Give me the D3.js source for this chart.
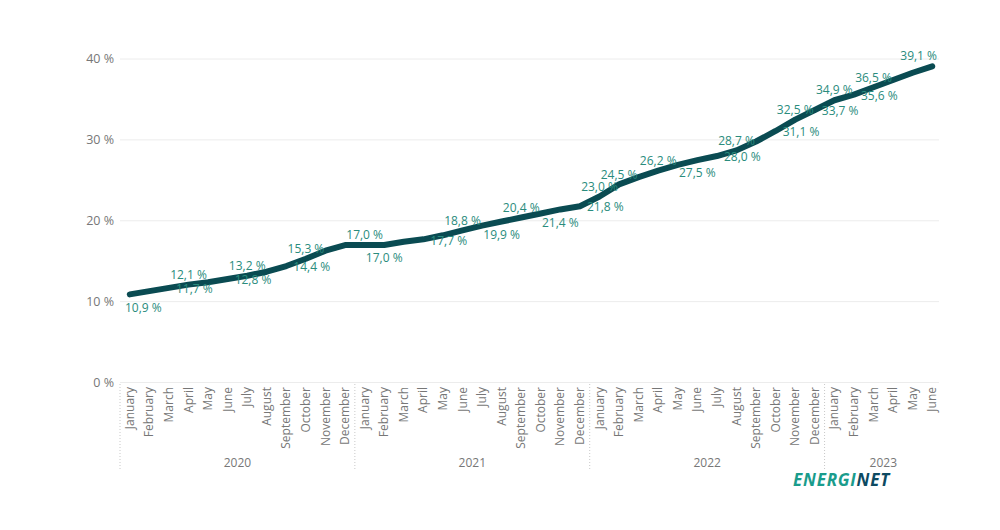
<!DOCTYPE html>
<html>
<head>
<meta charset="utf-8">
<script src="https://cdn.jsdelivr.net/npm/d3@7/dist/d3.min.js"></script>
<style>
  body { margin: 0; background: #fff; }
  svg { font-family: "Open Sans", "Noto Sans", sans-serif; }
</style>
</head>
<body>
<svg id="chart" width="1000" height="530"></svg>
<script>
// monthly share, Jan 2020 - Jun 2023
var months = ['January','February','March','April','May','June','July','August','September','October','November','December'];
var years = ['2020', '2021', '2022', '2023'];
var monthsPerYear = [12, 12, 12, 6];
var values = [
  10.9, 11.3, 11.7, 12.1, 12.4, 12.8, 13.2, 13.7, 14.4, 15.3, 16.3, 17.0,
  17.0, 17.0, 17.4, 17.7, 18.2, 18.8, 19.4, 19.9, 20.4, 20.9, 21.4, 21.8,
  23.0, 24.5, 25.4, 26.2, 26.9, 27.5, 28.0, 28.7, 29.8, 31.1, 32.5, 33.7,
  34.9, 35.6, 36.5, 37.4, 38.3, 39.1
];
// which points carry a data label, and where it sits
var labelIdx = [0, 2, 3, 5, 6, 8, 9, 12, 13, 15, 17, 19, 20, 22, 23, 24, 25, 27, 29, 30, 31, 33, 34, 35, 36, 37, 38, 41];
var labelPos = ['below','right','above','right','above','right','above','above','below','right','above','below','above','below','right','above','above','above','below','right','above','right','above','right','above','right','above','above'];
var yTicks = [0, 10, 20, 30, 40];

var cats = [];
years.forEach(function (yr, yi) {
  for (var m = 0; m < monthsPerYear[yi]; m++) cats.push({ year: yr, month: months[m] });
});
cats.forEach(function (c, i) { c.i = i; c.v = values[i]; });

var svg = d3.select('#chart');
var plotLeft = 120, plotRight = 942, plotTop = 59, plotBottom = 382.5;

var x = d3.scaleBand().domain(d3.range(cats.length)).range([plotLeft, plotRight]);
var cx = function (i) { return x(i) + x.bandwidth() / 2; };
var y = d3.scaleLinear().domain([0, 40]).range([plotBottom, plotTop]);
var fmt = function (v) { return d3.format('.1f')(v).replace('.', ',') + ' %'; };

// grid + y labels
svg.append('g').selectAll('line').data(yTicks).enter().append('line')
  .attr('x1', plotLeft).attr('x2', plotRight - 3)
  .attr('y1', function (d) { return y(d); }).attr('y2', function (d) { return y(d); })
  .attr('stroke', '#ececec').attr('stroke-width', 1);

svg.append('g').selectAll('text').data(yTicks).enter().append('text')
  .attr('x', 114).attr('y', function (d) { return y(d); })
  .attr('dy', '0.35em').attr('text-anchor', 'end')
  .attr('font-size', 12.5).attr('fill', '#777')
  .text(function (d) { return d + ' %'; });

// month labels
svg.append('g').selectAll('text').data(cats).enter().append('text')
  .attr('transform', function (d) { return 'translate(' + (cx(d.i) + 4) + ',387) rotate(-90)'; })
  .attr('text-anchor', 'end')
  .attr('font-size', 12).attr('fill', '#777')
  .text(function (d) { return d.month; });

// year groups
var start = 0, bounds = [];
years.forEach(function (yr, yi) {
  bounds.push({ year: yr, a: start, b: start + monthsPerYear[yi] - 1 });
  start += monthsPerYear[yi];
});
svg.append('g').selectAll('text').data(bounds).enter().append('text')
  .attr('x', function (d) { return (cx(d.a) + cx(d.b)) / 2; })
  .attr('y', 467).attr('text-anchor', 'middle')
  .attr('font-size', 12).attr('fill', '#777')
  .text(function (d) { return d.year; });

svg.append('g').selectAll('line').data(bounds).enter().append('line')
  .attr('x1', function (d) { return x(d.a); }).attr('x2', function (d) { return x(d.a); })
  .attr('y1', 384).attr('y2', 470)
  .attr('stroke', '#c8c8c8').attr('stroke-width', 1).attr('stroke-dasharray', '1,2');

// line
var line = d3.line().x(function (d) { return cx(d.i); }).y(function (d) { return y(d.v); });
svg.append('path').datum(cats)
  .attr('d', line)
  .attr('fill', 'none').attr('stroke', '#0a4b52')
  .attr('stroke-width', 6).attr('stroke-linecap', 'round').attr('stroke-linejoin', 'round');

// data labels
var labels = labelIdx.map(function (i, k) { return { i: i, v: values[i], pos: labelPos[k] }; });
var lg = svg.append('g');
labels.forEach(function (d) {
  var t = lg.append('text')
    .attr('font-size', 12).attr('fill', '#2a8c7d')
    .attr('dy', '0.35em')
    .text(fmt(d.v));
  var w = t.node().getComputedTextLength();
  var px = cx(d.i), py = y(d.v), lx, ly;
  if (d.pos === 'right') { lx = px + 7; ly = py + 1; }
  else { lx = px - w / 2; ly = d.pos === 'above' ? py - 10 : py + 13; }
  lx = Math.max(plotLeft + 5, Math.min(lx, plotRight - 5 - w));
  t.attr('x', lx).attr('y', ly);
});

// logo
var logo = svg.append('text')
  .attr('x', 793).attr('y', 486)
  .attr('font-size', 17).attr('font-weight', 'bold')
  .attr('font-style', 'italic').attr('letter-spacing', '0.8');
logo.append('tspan').attr('fill', '#1a9c8c').text('ENERGI');
logo.append('tspan').attr('fill', '#0d4a62').text('NET');
</script>
</body>
</html>
